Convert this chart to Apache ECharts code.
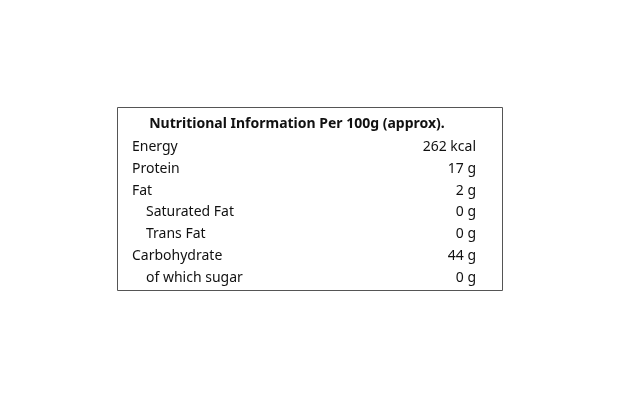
<!DOCTYPE html>
<html>
<head>
<meta charset="utf-8">
<script src="https://cdn.jsdelivr.net/npm/echarts@6/dist/echarts.min.js"></script>
<style>
  html, body { margin: 0; padding: 0; background: #fff; }
  #chart { width: 620px; height: 400px; }
</style>
</head>
<body>
<div id="chart"></div>
<script>
const title = "Nutritional Information Per 100g (approx).";
const nutrients = ["Energy", "Protein", "Fat", "Saturated Fat", "Trans Fat", "Carbohydrate", "of which sugar"];
const amounts = [262, 17, 2, 0, 0, 44, 0];
const units = ["kcal", "g", "g", "g", "g", "g", "g"];
const indented = [false, false, false, true, true, false, true];

const chart = echarts.init(document.getElementById("chart"));

const font = "'Noto Sans', sans-serif";
const rowTop = 147;
const rowStep = 21.8;

const elements = [
  {
    type: "rect",
    shape: { x: 117.5, y: 107.5, width: 385, height: 183 },
    style: { fill: "#fff", stroke: "#555", lineWidth: 1 },
  },
  {
    type: "text",
    x: 297, y: 124,
    style: {
      text: title, fill: "#111", font: "bold 14px " + font,
      textAlign: "center", textVerticalAlign: "middle",
    },
  },
];

nutrients.forEach((name, i) => {
  const y = rowTop + i * rowStep;
  elements.push({
    type: "text",
    x: indented[i] ? 146 : 132, y: y,
    style: { text: name, fill: "#111", font: "14px " + font, textVerticalAlign: "middle" },
  });
  elements.push({
    type: "text",
    x: 476, y: y,
    style: {
      text: amounts[i] + " " + units[i], fill: "#111", font: "14px " + font,
      textAlign: "right", textVerticalAlign: "middle",
    },
  });
});

chart.setOption({
  backgroundColor: "#fff",
  graphic: { elements: elements },
});
</script>
</body>
</html>
